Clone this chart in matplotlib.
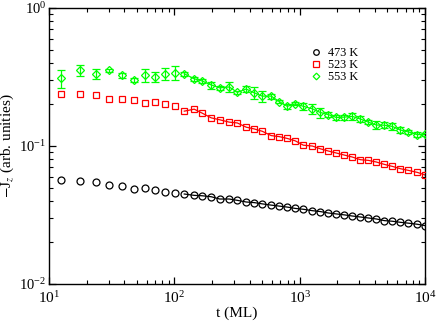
import matplotlib
matplotlib.use("Agg")
import matplotlib.pyplot as plt
from matplotlib.lines import Line2D
from matplotlib.ticker import LogLocator, NullFormatter

plt.rcParams["font.family"] = ["Liberation Serif", "DejaVu Serif"]
plt.rcParams["mathtext.fontset"] = "stix"

# shared time grid (ML)
t = [12.5, 17.7, 23.6, 30.1, 38.3, 47.7, 58.5, 70.3, 84.5, 101,
     120, 144, 167, 197, 230, 274, 318, 374, 434, 502,
     593, 687, 796, 923, 1070, 1262, 1462, 1694, 1962, 2272,
     2632, 3048, 3531, 4090, 4740, 5490, 6360, 7370, 8690, 10000]

j_473 = [0.0570, 0.0557, 0.0548, 0.0524, 0.0510, 0.0491, 0.0496, 0.0482, 0.0466, 0.0454,
         0.0449, 0.0439, 0.0436, 0.0429, 0.0413, 0.0413, 0.0404, 0.0393, 0.0389, 0.0381,
         0.0373, 0.0367, 0.0361, 0.0353, 0.0348, 0.0340, 0.0335, 0.0327, 0.0322, 0.0317,
         0.0311, 0.0306, 0.0301, 0.0296, 0.0288, 0.0285, 0.0280, 0.0276, 0.0271, 0.0265]

j_523 = [0.238, 0.237, 0.233, 0.221, 0.218, 0.217, 0.206, 0.209, 0.202, 0.194,
         0.179, 0.185, 0.173, 0.160, 0.155, 0.149, 0.147, 0.137, 0.133, 0.128,
         0.119, 0.117, 0.1135, 0.109, 0.1014, 0.100, 0.0955, 0.092, 0.089, 0.086,
         0.0832, 0.0796, 0.0787, 0.0766, 0.0736, 0.0712, 0.0685, 0.0666, 0.0644, 0.0617]

j_553 = [0.309, 0.355, 0.334, 0.353, 0.325, 0.299, 0.327, 0.319, 0.334, 0.340,
         0.334, 0.307, 0.296, 0.277, 0.264, 0.268, 0.245, 0.259, 0.243, 0.230,
         0.230, 0.210, 0.194, 0.202, 0.194, 0.186, 0.175, 0.169, 0.161, 0.162,
         0.164, 0.157, 0.149, 0.142, 0.1415, 0.1387, 0.1306, 0.1265, 0.121, 0.1213]

err_553 = [0.047, 0.031, 0.029, 0.010, 0.015, 0.010, 0.037, 0.027, 0.033, 0.040,
           0.011, 0.010, 0.012, 0.016, 0.009, 0.022, 0.006, 0.013, 0.023, 0.021,
           0.010, 0.005, 0.007, 0.005, 0.011, 0.016, 0.015, 0.006, 0.007, 0.007,
           0.0095, 0.0087, 0.0057, 0.010, 0.0066, 0.0076, 0.0072, 0.0048, 0.0054, 0.003]

labels = ["473 K", "523 K", "553 K"]
LINE_START = 10  # the solid curve only runs over the late-time points

GREEN = "#00ff00"
RED = "#ff0000"

fig = plt.figure(figsize=(4.36, 3.22), dpi=100)
ax = fig.add_axes([0.1124, 0.118, 0.8624, 0.857])

# connecting curves
ax.plot(t[LINE_START:], j_473[LINE_START:], color="black", lw=0.9, zorder=2)
ax.plot(t[LINE_START:], j_523[LINE_START:], color=RED, lw=0.9, zorder=2)
ax.plot(t[LINE_START:], j_553[LINE_START:], color=GREEN, lw=0.9, zorder=2)

ax.plot(t, j_473, ls="none", marker="o", ms=5, mfc="none", mec="black", mew=0.9, zorder=3)
ax.plot(t, j_523, ls="none", marker="s", ms=4.6, mfc="none", mec=RED, mew=0.9, zorder=3)
ax.errorbar(t, j_553, yerr=err_553, ls="none", marker="D", ms=4, mfc="none",
            mec=GREEN, mew=0.9, ecolor=GREEN, elinewidth=0.9, capsize=2.6,
            capthick=0.9, zorder=3)

ax.set_xscale("log")
ax.set_yscale("log")
ax.set_xlim(10, 1e4)
ax.set_ylim(1e-2, 1)

ax.xaxis.set_minor_locator(LogLocator(base=10, subs=range(2, 10)))
ax.yaxis.set_minor_locator(LogLocator(base=10, subs=range(2, 10)))
ax.xaxis.set_minor_formatter(NullFormatter())
ax.yaxis.set_minor_formatter(NullFormatter())
ax.tick_params(which="both", direction="in", top=True, right=True)
ax.tick_params(axis="x", labelsize=11, pad=4.5)
ax.tick_params(axis="y", labelsize=10.5, pad=2)
ax.tick_params(which="major", length=5, width=0.9)
ax.tick_params(which="minor", length=2.6, width=0.8)
for s in ax.spines.values():
    s.set_linewidth(1.0)

ax.set_xlabel("t (ML)", fontsize=11, labelpad=0)
ax.set_ylabel(r"$-$J$_z$ (arb. unities)", fontsize=11, labelpad=2)

# legend shows markers only (no error bars)
handles = [
    Line2D([], [], ls="none", marker="o", ms=4, mfc="none", mec="black", mew=0.9),
    Line2D([], [], ls="none", marker="s", ms=3.8, mfc="none", mec=RED, mew=0.9),
    Line2D([], [], ls="none", marker="D", ms=3.4, mfc="none", mec=GREEN, mew=0.9),
]
ax.legend(handles, labels, loc="upper left", bbox_to_anchor=(0.695, 0.858),
          frameon=False, fontsize=8.8, handlelength=1.0, handletextpad=0.45,
          labelspacing=0.0, borderpad=0, borderaxespad=0)

fig.savefig("out.png", dpi=100)
